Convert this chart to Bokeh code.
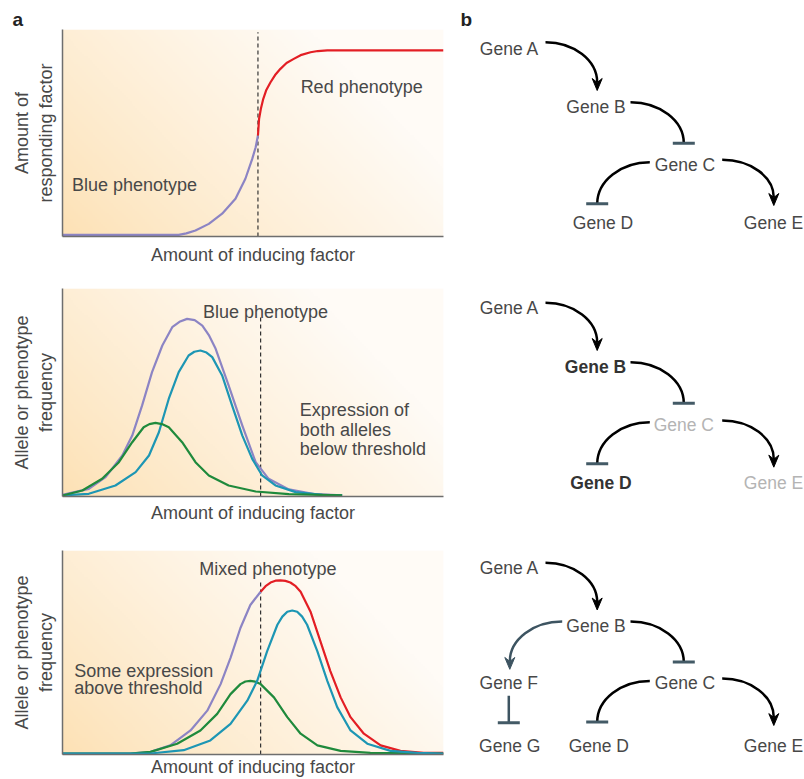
import numpy as np
from bokeh.plotting import figure
from bokeh.layouts import column, row
from bokeh.models import Range1d, FixedTicker, ColumnDataSource
from bokeh.core.properties import value
from bokeh.embed import file_html
from bokeh.resources import INLINE

FONT = "Liberation Sans"
TXT = "#484848"
PURPLE = "#8c84c4"
RED = "#e31e24"
TEAL = "#1d96b4"
GREEN = "#1f8a3c"
BAR = "#435a66"
SLATE = "#3d5461"

# ---------------- data: panel a ----------------
x_label = "Amount of inducing factor"
y_label_top = "Amount of\nresponding factor"
y_label_freq = "Allele or phenotype\nfrequency"

# row 1: response curve (blue part below threshold, red part above)
r1_blue_x = [0, 30.5, 32.5, 34.9, 38.4, 41.9, 45.4, 48.0, 49.8, 50.7, 51.3]
r1_blue_y = [0.8, 0.8, 1.5, 2.9, 6.1, 11.0, 18.2, 27.9, 37.5, 43.1, 48.8]
r1_red_x = [51.3, 51.6, 52.1, 52.7, 53.5, 54.6, 55.8, 57.2, 58.8, 60.7, 62.5, 65.1, 67.0, 69.5, 100]
r1_red_y = [48.8, 56.9, 62.0, 66.5, 70.8, 74.5, 78.0, 81.0, 83.8, 85.8, 87.6, 89.0, 89.6, 89.9, 89.9]
r1_thr_x = [51.3, 51.3]
r1_thr_y = [0, 98.7]

# row 2: both alleles below threshold
r2_total_x = [0, 6.9, 11.3, 15.7, 18.3, 20.9, 23.5, 26.2, 28.8, 30.7, 32.7, 34.7, 36.7, 38.5, 40.2, 43.6, 47.2, 50.7, 54.1, 59.4, 66.4, 73.4]
r2_total_y = [0.8, 3.7, 9.3, 19.7, 29.3, 43.8, 59.8, 72.6, 81.4, 84.0, 85.4, 84.8, 82.2, 77.3, 71.0, 53.4, 34.1, 16.5, 8.5, 3.4, 1.1, 0.5]
r2_teal_x = [0, 6.9, 13.9, 19.2, 22.7, 25.3, 27.9, 30.5, 33.1, 34.6, 36.2, 37.8, 39.3, 41.9, 44.5, 47.2, 49.8, 52.4, 55.9, 61.2, 68.2, 73.4]
r2_teal_y = [0.5, 1.3, 5.3, 11.7, 19.7, 30.9, 47.0, 59.8, 67.8, 69.6, 70.2, 69.2, 67.0, 58.2, 43.8, 29.3, 18.1, 10.1, 5.3, 2.1, 0.8, 0.5]
r2_green_x = [0, 5.2, 10.4, 14.8, 18.3, 21.3, 22.8, 24.4, 26.1, 27.9, 31.4, 34.9, 38.4, 43.6, 50.7, 59.4, 73.4]
r2_green_y = [0.5, 2.9, 8.5, 16.5, 26.1, 33.3, 34.8, 35.4, 34.8, 33.3, 26.1, 16.5, 10.1, 5.3, 2.4, 1.1, 0.5]
r2_thr_x = [52.0, 52.0]
r2_thr_y = [0, 86.2]

# row 3: some expression above threshold
r3_blue_x = [0, 17.8, 23.1, 28.3, 33.6, 38.0, 41.5, 44.1, 46.7, 49.3, 52.0]
r3_blue_y = [0.5, 0.5, 1.3, 4.5, 11.8, 21.5, 34.5, 47.4, 62.0, 73.3, 79.8]
r3_red_x = [52.0, 53.3, 54.6, 55.9, 57.2, 58.5, 59.8, 61.2, 62.5, 65.1, 67.7, 70.3, 73.0, 75.6, 79.1, 83.5, 88.7, 94.8, 100]
r3_red_y = [79.8, 82.5, 84.3, 85.2, 85.4, 85.1, 84.3, 82.5, 79.8, 70.0, 55.5, 40.9, 28.0, 18.3, 10.2, 4.5, 1.8, 0.8, 0.8]
r3_teal_x = [0, 23.1, 31.8, 38.8, 44.1, 48.5, 51.1, 53.7, 56.4, 57.7, 59.0, 60.3, 61.6, 62.9, 64.2, 66.9, 69.5, 72.1, 75.6, 80.0, 86.1, 93.1, 100]
r3_teal_y = [0.5, 0.5, 2.1, 6.9, 15.0, 26.4, 36.1, 50.6, 63.6, 67.6, 70.0, 70.6, 70.0, 67.6, 63.6, 50.6, 36.1, 23.2, 11.8, 5.3, 1.8, 0.8, 0.5]
r3_green_x = [0, 17.8, 23.1, 30.1, 36.2, 40.6, 44.1, 46.7, 48.0, 49.3, 50.6, 52.0, 55.5, 59.0, 62.5, 66.9, 73.0, 80.8, 100]
r3_green_y = [0.5, 0.5, 1.3, 5.3, 11.8, 19.9, 29.6, 34.5, 35.8, 36.1, 35.7, 34.5, 28.0, 18.3, 10.2, 4.5, 1.8, 0.8, 0.5]
r3_thr_x = [52.0, 52.0]
r3_thr_y = [0, 85.4]

# ---------------- data: panel b (gene networks) ----------------
# nodes: name, x, baseline y, style, colour
net1_nodes = [("Gene A", 509, 48.3, "normal", TXT), ("Gene B", 595.5, 106.7, "normal", TXT),
              ("Gene C", 684.5, 164.3, "normal", TXT), ("Gene D", 602.5, 222.7, "normal", TXT),
              ("Gene E", 773, 222.7, "normal", TXT)]
net1_edges = [(545, 41.7, 596.7, 90, "act", "black"), (630, 101.7, 683.3, 142.7, "inh", "black"),
              (649.3, 161.7, 596.7, 203.3, "inh", "black"), (721.7, 159.3, 773.3, 205, "act", "black")]

net2_nodes = [("Gene A", 509, 307.3, "normal", TXT), ("Gene B", 595, 366.7, "bold", "#333333"),
              ("Gene C", 683.3, 424, "normal", "#b4b4b4"), ("Gene D", 600.5, 482.7, "bold", "#333333"),
              ("Gene E", 773, 482.7, "normal", "#b4b4b4")]
net2_edges = [(545, 302.3, 596.7, 350, "act", "black"), (630, 361.7, 683.3, 402.7, "inh", "black"),
              (649.3, 421.7, 596.7, 463.3, "inh", "black"), (721.7, 420, 773.3, 466.7, "act", "black")]

net3_nodes = [("Gene A", 509, 567.3, "normal", TXT), ("Gene B", 595.5, 626.7, "normal", TXT),
              ("Gene F", 508.3, 684, "normal", TXT), ("Gene C", 684.5, 684, "normal", TXT),
              ("Gene G", 509.2, 747.3, "normal", TXT), ("Gene D", 598.3, 747.3, "normal", TXT),
              ("Gene E", 773, 747.3, "normal", TXT)]
net3_edges = [(545, 562.3, 596.7, 610, "act", "black"), (561.7, 621.7, 509.3, 670, "act", SLATE),
              (630, 621.7, 683.3, 662.7, "inh", "black"), (508.3, 696.7, 508.3, 724, "inh", SLATE),
              (649.3, 681.7, 596.7, 723.3, "inh", "black"), (721.7, 679.3, 773.3, 726.7, "act", "black")]


def gradient(nx=200, ny=100):
    xs = np.linspace(0, 1, nx)
    ys = np.linspace(0, 1, ny)
    X, Y = np.meshgrid(xs, ys)
    t = np.clip(0.85 * X + 0.45 * Y, 0, 1) ** 0.85
    c0 = np.array([253, 225, 180], dtype=float)
    c1 = np.array([255, 251, 246], dtype=float)
    img = np.empty((ny, nx), dtype=np.uint32)
    v = img.view(dtype=np.uint8).reshape((ny, nx, 4))
    for i in range(3):
        v[:, :, i] = (c0[i] + (c1[i] - c0[i]) * t).astype(np.uint8)
    v[:, :, 3] = 255
    return img


def style_title(p, text_offset):
    p.title.text_font = FONT
    p.title.text_font_size = "19px"
    p.title.text_font_style = "bold"
    p.title.text_color = "#222222"
    p.title.align = "left"
    p.title.offset = text_offset
    p.title.standoff = 0


def left_fig(h, top, bottom, ylabel, xstand, title=None):
    p = figure(width=446, height=h, x_range=Range1d(0, 100), y_range=Range1d(0, 100),
               output_backend="svg", toolbar_location=None, title=title,
               min_border_left=62, min_border_right=3, min_border_top=top, min_border_bottom=bottom)
    p.grid.visible = False
    p.outline_line_color = None
    p.border_fill_color = "white"
    for ax in (p.xaxis[0], p.yaxis[0]):
        ax.ticker = FixedTicker(ticks=[])
        ax.major_tick_line_color = None
        ax.minor_tick_line_color = None
        ax.major_tick_out = 0
        ax.major_tick_in = 0
        ax.minor_tick_out = 0
        ax.minor_tick_in = 0
        ax.major_label_text_font_size = "0px"
        ax.major_label_standoff = 0
        ax.axis_line_color = "#6e6e6e"
        ax.axis_line_width = 1.5
        ax.axis_label_text_font = FONT
        ax.axis_label_text_font_size = "18px"
        ax.axis_label_text_font_style = "normal"
        ax.axis_label_text_color = TXT
    p.xaxis.axis_label = x_label
    p.xaxis.axis_label_standoff = xstand
    p.yaxis.axis_label = ylabel
    p.yaxis.axis_label_standoff = 7
    p.image_rgba(image=[gradient()], x=0, y=0, dw=100, dh=100)
    return p


def add_text(p, xs, ys, texts, align="left"):
    p.text(x=xs, y=ys, text=texts, text_align=align, text_baseline="alphabetic",
           text_font=value(FONT), text_font_size="18px", text_color=TXT)


def thr_line(p, xs, ys):
    p.line(xs, ys, line_color="#333333", line_width=1.2, line_dash="4 3")


LW = 2.2
# ---- row 1 left
l1 = left_fig(270, 29, 34, y_label_top, 8, title="a")
style_title(l1, -50)
thr_line(l1, r1_thr_x, r1_thr_y)
l1.line(r1_blue_x, r1_blue_y, line_color=PURPLE, line_width=LW, line_join="round")
l1.line(r1_red_x, r1_red_y, line_color=RED, line_width=LW, line_join="round")
add_text(l1, [2.5], [25], ["Blue phenotype"])
add_text(l1, [62.5], [72.1], ["Red phenotype"])

# ---- row 2 left
l2 = left_fig(260, 18, 34, y_label_freq, 6)
thr_line(l2, r2_thr_x, r2_thr_y)
l2.line(r2_total_x, r2_total_y, line_color=PURPLE, line_width=LW, line_join="round")
l2.line(r2_teal_x, r2_teal_y, line_color=TEAL, line_width=LW, line_join="round")
l2.line(r2_green_x, r2_green_y, line_color=GREEN, line_width=LW, line_join="round")
add_text(l2, [53.3], [88.6], ["Blue phenotype"], align="center")
add_text(l2, [62.3, 62.3, 62.3], [41.7, 32.1, 22.7], ["Expression of", "both alleles", "below threshold"])

# ---- row 3 left
l3 = left_fig(249, 20, 23, y_label_freq, 2)
thr_line(l3, r3_thr_x, r3_thr_y)
l3.line(r3_blue_x, r3_blue_y, line_color=PURPLE, line_width=LW, line_join="round")
l3.line(r3_red_x, r3_red_y, line_color=RED, line_width=LW, line_join="round")
l3.line(r3_green_x, r3_green_y, line_color=GREEN, line_width=LW, line_join="round")
l3.line(r3_teal_x, r3_teal_y, line_color=TEAL, line_width=LW, line_join="round")
add_text(l3, [53.9], [90.8], ["Mixed phenotype"], align="center")
add_text(l3, [3.1, 3.1], [40.9, 32.4], ["Some expression", "above threshold"])


def right_fig(h, top, bottom, nodes, edges, title=None):
    # frame spans the same rows as the left panel's frame (page y: row_top+top .. row_top+h-bottom)
    p = figure(width=358, height=h, x_range=Range1d(446, 804), y_range=Range1d(0, 1),
               output_backend="svg", toolbar_location=None, x_axis_location=None,
               y_axis_location=None, min_border_left=0, min_border_right=0,
               min_border_top=top, min_border_bottom=bottom, title=title)
    p.grid.visible = False
    p.outline_line_color = None
    p.border_fill_color = "white"
    p.background_fill_color = "white"
    k = 0.55
    for (x0, y0, x1, y1, kind, col) in edges:
        ye = y1 - 8 if kind == "act" else y1
        if x0 == x1:
            p.line([x0, x1], [y0, ye], line_color=col, line_width=2.5)
        else:
            p.bezier(x0=[x0], y0=[y0], x1=[x1], y1=[ye],
                     cx0=[x0 + k * (x1 - x0)], cy0=[y0], cx1=[x1], cy1=[ye - k * (ye - y0)],
                     line_color=col, line_width=2.5)
        if kind == "act":
            p.patch([x1, x1 - 5, x1, x1 + 5], [y1, y1 - 12, y1 - 8, y1 - 12],
                    fill_color=col, line_color=col, line_width=1)
        else:
            p.line([x1 - 11, x1 + 11], [y1, y1], line_color=BAR, line_width=3)
    src = ColumnDataSource(dict(x=[n[1] for n in nodes], y=[n[2] for n in nodes],
                                t=[n[0] for n in nodes], s=[n[3] for n in nodes],
                                c=[n[4] for n in nodes]))
    p.text(x="x", y="y", text="t", text_font_style="s", text_color="c", source=src,
           text_align="center", text_baseline="alphabetic", text_font=value(FONT),
           text_font_size="17.5px")
    return p


r1 = right_fig(270, 29, 34, net1_nodes, net1_edges, title="b")
r1.y_range = Range1d(236, 29)
style_title(r1, 14)
r2 = right_fig(260, 18, 34, net2_nodes, net2_edges)
r2.y_range = Range1d(496, 288)
r3 = right_fig(249, 20, 23, net3_nodes, net3_edges)
r3.y_range = Range1d(756, 550)

layout = column(row(l1, r1), row(l2, r2), row(l3, r3))
open("out.html", "w").write(file_html(layout, INLINE))
